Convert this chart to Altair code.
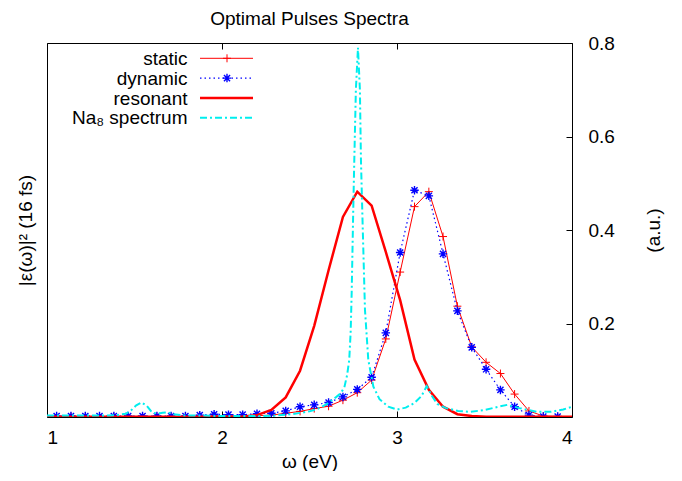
import altair as alt
import pandas as pd

# ---------------- data ----------------
omega = [1.055, 1.137, 1.219, 1.300, 1.382, 1.464, 1.546, 1.628, 1.709, 1.791,
         1.873, 1.955, 2.037, 2.118, 2.200, 2.282, 2.364, 2.446, 2.527, 2.609,
         2.691, 2.773, 2.855, 2.936, 3.018, 3.100, 3.182, 3.263, 3.345, 3.427,
         3.509, 3.591, 3.672, 3.754, 3.836, 3.918]

static = [0.001, 0.001, 0.001, 0.001, 0.001, 0.001, 0.001, 0.001, 0.001, 0.001,
          0.001, 0.002, 0.002, 0.003, 0.003, 0.004, 0.008, 0.012, 0.018, 0.023,
          0.036, 0.052, 0.079, 0.167, 0.310, 0.450, 0.482, 0.386, 0.237, 0.150,
          0.117, 0.093, 0.049, 0.013, 0.002, 0.001]

dynamic = [0.002, 0.002, 0.002, 0.002, 0.002, 0.002, 0.002, 0.002, 0.002, 0.002,
           0.004, 0.006, 0.005, 0.005, 0.007, 0.008, 0.013, 0.022, 0.026, 0.031,
           0.043, 0.059, 0.085, 0.180, 0.352, 0.485, 0.473, 0.349, 0.227, 0.149,
           0.102, 0.058, 0.022, 0.004, 0.001, 0.001]

omega_res = [0.973, 1.055, 1.137, 1.219, 1.300, 1.382, 1.464, 1.546, 1.628, 1.709,
             1.791, 1.873, 1.955, 2.037, 2.118, 2.200, 2.282, 2.364, 2.446, 2.527,
             2.609, 2.691, 2.773, 2.855, 2.936, 3.018, 3.100, 3.182, 3.263, 3.345,
             3.427, 3.509, 3.591, 3.672, 3.754, 3.836, 3.918, 4.000]

resonant = [0.0005, 0.0005, 0.0005, 0.0005, 0.0005, 0.0005, 0.0005, 0.0005, 0.0005, 0.0005,
            0.0005, 0.0005, 0.0005, 0.0005, 0.001, 0.004, 0.015, 0.042, 0.099, 0.195,
            0.314, 0.428, 0.482, 0.452, 0.353, 0.250, 0.123, 0.058, 0.022, 0.006,
            0.002, 0.0005, 0.0005, 0.0005, 0.0005, 0.0005, 0.0005, 0.0005]

na8_omega = [1.00, 1.10, 1.20, 1.30, 1.40, 1.45, 1.48, 1.51, 1.54, 1.57,
             1.60, 1.63, 1.66, 1.69, 1.72, 1.80, 1.90, 2.00, 2.10, 2.20,
             2.30, 2.40, 2.50, 2.55, 2.60, 2.65, 2.68, 2.70, 2.715, 2.727,
             2.735, 2.741, 2.750, 2.756, 2.765, 2.777, 2.788, 2.794, 2.804, 2.817,
             2.836, 2.865, 2.90, 2.95, 3.00, 3.05, 3.10, 3.14, 3.17, 3.20,
             3.23, 3.28, 3.35, 3.42, 3.50, 3.58, 3.63, 3.70, 3.80, 3.88,
             3.95, 4.00]
na8_spec = [0.003, 0.003, 0.003, 0.003, 0.004, 0.007, 0.014, 0.025, 0.031, 0.024,
            0.010, 0.007, 0.009, 0.010, 0.006, 0.003, 0.003, 0.002, 0.002, 0.002,
            0.003, 0.006, 0.012, 0.018, 0.028, 0.042, 0.051, 0.065, 0.090, 0.122,
            0.180, 0.265, 0.443, 0.550, 0.700, 0.790, 0.700, 0.550, 0.407, 0.229,
            0.122, 0.065, 0.038, 0.022, 0.016, 0.020, 0.030, 0.045, 0.066, 0.045,
            0.028, 0.019, 0.013, 0.011, 0.015, 0.022, 0.026, 0.019, 0.011, 0.011,
            0.016, 0.022]

title_text = "Optimal Pulses Spectra"
legend_labels = ["static", "dynamic", "resonant", "Na\u2088 spectrum"]
x_ticks = [1, 2, 3, 4]
y_ticks = [0.2, 0.4, 0.6, 0.8]

# ---------------- styling ----------------
W, H = 525, 374
FONT = "Liberation Sans"
FS = 19
RED = "#ff0000"
BLUE = "#0000ff"
CYAN = "#00eeee"
PLUS = "M-1,0L1,0M0,-1L0,1"
STAR = "M-1,0L1,0M0,-1L0,1M-0.72,-0.72L0.72,0.72M-0.72,0.72L0.72,-0.72"

xscale = alt.Scale(domain=[1, 4], nice=False, zero=False)
yscale = alt.Scale(domain=[0, 0.8], nice=False, zero=False)

X_BOTTOM = alt.Axis(orient="bottom", values=x_ticks, format="d", offset=-6, tickSize=6,
                    tickColor="black", domain=False, grid=False, labelPadding=11,
                    labelFont=FONT, labelFontSize=FS, labelColor="black",
                    title="\u03c9 (eV)", titleFont=FONT, titleFontSize=FS,
                    titleFontWeight="normal", titleColor="black",
                    titleY=50, titleBaseline="middle")
Y_RIGHT = alt.Axis(orient="right", values=y_ticks, format=".1f", offset=-6, tickSize=6,
                   tickColor="black", domain=False, grid=False, labelPadding=16,
                   labelFont=FONT, labelFontSize=FS, labelColor="black",
                   title="(a.u.)", titleFont=FONT, titleFontSize=FS,
                   titleFontWeight="normal", titleColor="black", titleAngle=270,
                   titleX=87, titleY=H / 2, titleAlign="center", titleBaseline="middle")
X_TOP = alt.Axis(orient="top", values=x_ticks, offset=-6, tickSize=6, tickColor="black",
                 labels=False, domain=False, grid=False, title=None)
Y_LEFT = alt.Axis(orient="left", labels=False, ticks=False, domain=False, grid=False,
                  title="|\u03b5(\u03c9)|\u00b2 (16 fs)", titleFont=FONT, titleFontSize=FS,
                  titleFontWeight="normal", titleColor="black", titleAngle=270,
                  titleX=-22, titleY=H / 2, titleAlign="center", titleBaseline="middle")

static_df = pd.DataFrame({"omega": omega, "value": static})
dynamic_df = pd.DataFrame({"omega": omega, "value": dynamic})
res_df = pd.DataFrame({"omega": omega_res, "value": resonant})
na8_df = pd.DataFrame({"omega": na8_omega, "value": na8_spec})


def enc(ch):
    return ch.encode(
        x=alt.X("omega:Q", scale=xscale, axis=X_BOTTOM),
        y=alt.Y("value:Q", scale=yscale, axis=Y_RIGHT),
    )


static_line = enc(alt.Chart(static_df).mark_line(color=RED, strokeWidth=1, clip=True))
static_pts = enc(alt.Chart(static_df).mark_point(shape=PLUS, size=64, filled=False,
                                                  color=RED, strokeWidth=1, opacity=1, clip=True))
dyn_line = enc(alt.Chart(dynamic_df).mark_line(color=BLUE, strokeWidth=1.2,
                                               strokeDash=[1.5, 3], clip=True))
dyn_pts = enc(alt.Chart(dynamic_df).mark_point(shape=STAR, size=72, filled=False,
                                                color=BLUE, strokeWidth=1.4, opacity=1, clip=True))
res_line = enc(alt.Chart(res_df).mark_line(color=RED, strokeWidth=2.5, clip=True))
na8_line = enc(alt.Chart(na8_df).mark_line(color=CYAN, strokeWidth=2,
                                           strokeDash=[7, 3, 2, 3], clip=True))

one = pd.DataFrame({"k": [0]})

# title as text placed above the plot area (centered on it)
title_mark = alt.Chart(one).mark_text(text=title_text, align="center", baseline="middle",
                                      font=FONT, fontSize=FS, color="black").encode(
    x=alt.value(W / 2), y=alt.value(-24))

# ---------------- legend (gnuplot style: label then sample) ----------------
row_y = [15.3, 35.1, 54.9, 74.7]
TX, S0, S1, SM = 140.5, 153, 206, 180
legend_layers = []
styles = [
    dict(color=RED, strokeWidth=1, shape=PLUS, strokeDash=None),
    dict(color=BLUE, strokeWidth=1.2, shape=STAR, strokeDash=[1.5, 3]),
    dict(color=RED, strokeWidth=2.5, shape=None, strokeDash=None),
    dict(color=CYAN, strokeWidth=2, shape=None, strokeDash=[7, 3, 2, 3]),
]
for lab, yy, st in zip(legend_labels, row_y, styles):
    legend_layers.append(
        alt.Chart(one).mark_text(text=lab, align="right", baseline="alphabetic",
                                 font=FONT, fontSize=FS, color="black")
        .encode(x=alt.value(TX), y=alt.value(yy + 6.7))
    )
    rule_kw = dict(color=st["color"], strokeWidth=st["strokeWidth"])
    if st["strokeDash"]:
        rule_kw["strokeDash"] = st["strokeDash"]
    legend_layers.append(
        alt.Chart(one).mark_rule(**rule_kw)
        .encode(x=alt.value(S0), x2=alt.value(S1), y=alt.value(yy))
    )
    if st["shape"]:
        legend_layers.append(
            alt.Chart(one).mark_point(shape=st["shape"], size=64 if st["shape"] == PLUS else 72,
                                      filled=False, color=st["color"],
                                      strokeWidth=1 if st["shape"] == PLUS else 1.4, opacity=1)
            .encode(x=alt.value(SM), y=alt.value(yy))
        )

data_layer = alt.layer(static_line, static_pts, dyn_line, dyn_pts, res_line, na8_line,
                       title_mark, *legend_layers)

deco = alt.Chart(static_df).mark_point(opacity=0).encode(
    x=alt.X("omega:Q", scale=xscale, axis=X_TOP),
    y=alt.Y("value:Q", scale=yscale, axis=Y_LEFT),
)

chart = (
    alt.layer(data_layer, deco)
    .resolve_axis(x="independent", y="independent")
    .properties(
        width=W, height=H,
        autosize=alt.AutoSizeParams(type="none"),
        padding={"left": 39, "top": 35, "right": 100, "bottom": 54},
        background="white",
    )
    .configure_view(stroke="black", strokeWidth=1)
)

chart.save("out.html", embed_options={"renderer": "svg", "actions": False})
